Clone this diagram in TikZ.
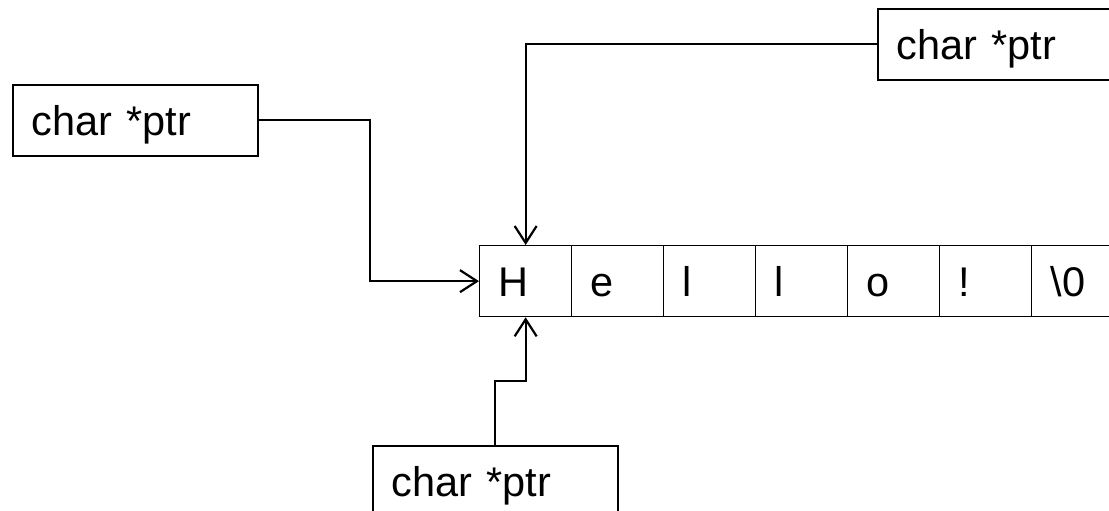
\documentclass[tikz,border=0pt]{standalone}
\usepackage{fontspec}
\setmainfont{Liberation Sans}
\usetikzlibrary{arrows.meta}
\begin{document}
\begin{tikzpicture}[x=1pt,y=-1pt,
  ptrbox/.style={draw, line width=1.7pt, anchor=north west,
    inner xsep=19pt, inner ysep=0pt, text width=207pt, align=left,
    minimum height=71pt, text height=35pt, text depth=4pt,
    font=\fontsize{41.5}{49}\selectfont},
  cell/.style={draw, line width=1.3pt, anchor=north west,
    inner xsep=19pt, inner ysep=0pt, text width=54pt, align=left,
    minimum height=71pt, text height=35pt, text depth=4pt,
    font=\fontsize{41.5}{49}\selectfont},
  link/.style={line width=2.2pt, -{Straight Barb[length=17pt,width=22pt,line width=2.2pt]}}
]
\useasboundingbox (0,0) rectangle (1109,511);
\clip (0,0) rectangle (1109,511);

% the character array
\node[cell] (c1) at (479,245) {H};
\node[cell] (c2) at (571,245) {e};
\node[cell] (c3) at (663,245) {l};
\node[cell] (c4) at (755,245) {l};
\node[cell] (c5) at (847,245) {o};
\node[cell] (c6) at (939,245) {!};
\node[cell] (c7) at (1031,245) {\textbackslash 0};

% the three pointers
\node[ptrbox] (ptrtop) at (877,8) {char *ptr};
\node[ptrbox] (ptrleft) at (12,84) {char *ptr};
\node[ptrbox] (ptrbottom) at (372,445) {char *ptr};

% connectors to the first character
\draw[link] (ptrtop.west) -| (c1.north);
\draw[link] (ptrleft.east) -- ++(111,0) |- (c1.west);
\draw[link] (ptrbottom.north) -- ++(0,-64) -| (c1.south);
\end{tikzpicture}
\end{document}
